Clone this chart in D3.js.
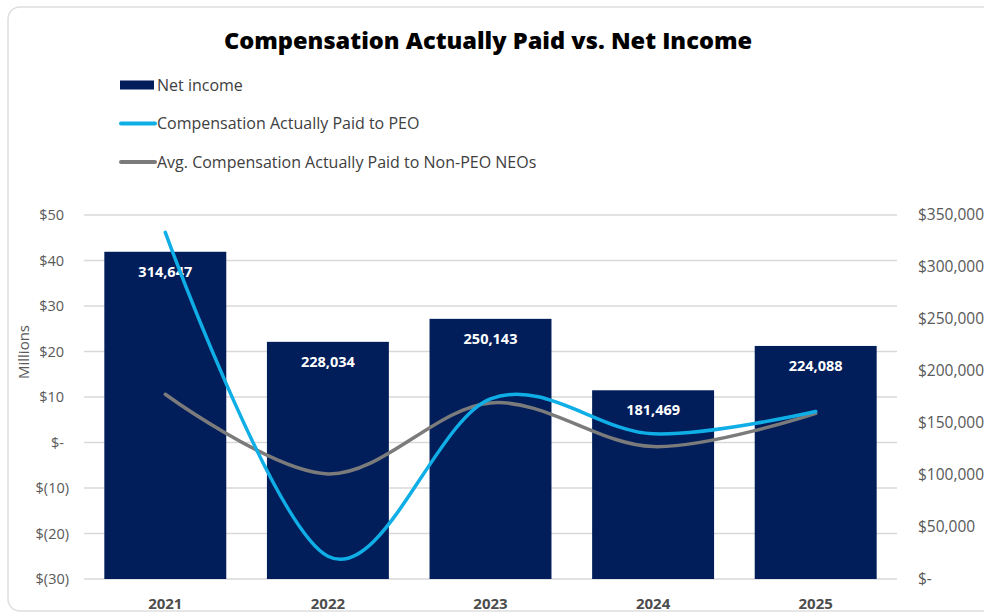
<!DOCTYPE html>
<html>
<head>
<meta charset="utf-8">
<script src="https://cdn.jsdelivr.net/npm/d3@7"></script>
<style>
  body { margin: 0; background: #fff; }
  text { font-family: "Open Sans", sans-serif; }
</style>
</head>
<body>
<script>
var w = 984;
var h = 613;

var years = ["2021", "2022", "2023", "2024", "2025"];
var netIncome = [314647, 228034, 250143, 181469, 224088]; // thousands, right axis
var capPEO = [46.2, -25.0, 9.6, 1.9, 6.8];                 // millions, left axis
var capNEO = [10.6, -6.9, 8.7, -0.9, 6.4];                 // millions, left axis

var leftTicks = [-30, -20, -10, 0, 10, 20, 30, 40, 50];
var leftTickLabels = ["$(30)", "$(20)", "$(10)", "$-", "$10", "$20", "$30", "$40", "$50"];
var rightTicks = [0, 50000, 100000, 150000, 200000, 250000, 300000, 350000];
var rightTickLabels = ["$-", "$50,000", "$100,000", "$150,000", "$200,000", "$250,000", "$300,000", "$350,000"];

var navy = "#011e5a";
var blue = "#10aee6";
var gray = "#7b7b7b";

var svg = d3.select("body")
    .append("svg")
    .attr("width", w)
    .attr("height", h);

// card
svg.append("rect")
    .attr("x", 8).attr("y", 7)
    .attr("width", 990).attr("height", 604)
    .attr("rx", 12)
    .attr("fill", "#fff")
    .attr("stroke", "#dedede")
    .attr("stroke-width", 1.5);

svg.append("text")
    .text("Compensation Actually Paid vs. Net Income")
    .attr("x", 488).attr("y", 49)
    .attr("text-anchor", "middle")
    .attr("font-size", 23.6)
    .attr("font-weight", 800)
    .attr("fill", "#000");

var x = d3.scaleBand().domain(years).range([84, 897]).paddingInner(0.25).paddingOuter(0.125);
var yL = d3.scaleLinear().domain([-30, 50]).range([579, 215]);
var yR = d3.scaleLinear().domain([0, 350000]).range([579, 215]);

// gridlines
svg.selectAll("line.grid")
    .data(leftTicks)
    .enter()
    .append("line")
    .attr("class", "grid")
    .attr("x1", 84).attr("x2", 897)
    .attr("y1", function(d){ return yL(d); })
    .attr("y2", function(d){ return yL(d); })
    .attr("stroke", "#d9d9d9")
    .attr("stroke-width", 1.5);

// left axis labels
svg.selectAll("text.yl")
    .data(leftTicks)
    .enter()
    .append("text")
    .attr("class", "yl")
    .text(function(d, i){ return leftTickLabels[i]; })
    .attr("x", function(d){ return d < 0 ? 69 : 64; })
    .attr("y", function(d){ return yL(d) + 5; })
    .attr("text-anchor", "end")
    .attr("font-size", 14.5)
    .attr("fill", "#595959");

// right axis labels
svg.selectAll("text.yr")
    .data(rightTicks)
    .enter()
    .append("text")
    .attr("class", "yr")
    .text(function(d, i){ return rightTickLabels[i]; })
    .attr("x", 918)
    .attr("y", function(d){ return yR(d) + 5; })
    .attr("font-size", 15.5)
    .attr("fill", "#595959");

svg.append("text")
    .text("Millions")
    .attr("transform", "translate(29,352) rotate(-90)")
    .attr("text-anchor", "middle")
    .attr("font-size", 15)
    .attr("fill", "#595959");

// bars
svg.selectAll("rect.bar")
    .data(netIncome)
    .enter()
    .append("rect")
    .attr("class", "bar")
    .attr("x", function(d, i){ return x(years[i]); })
    .attr("y", function(d){ return yR(d); })
    .attr("width", x.bandwidth())
    .attr("height", function(d){ return yR(0) - yR(d); })
    .attr("fill", navy);

svg.selectAll("text.barlab")
    .data(netIncome)
    .enter()
    .append("text")
    .attr("class", "barlab")
    .text(function(d){ return d3.format(",")(d); })
    .attr("x", function(d, i){ return x(years[i]) + x.bandwidth() / 2; })
    .attr("y", function(d){ return yR(d) + 25; })
    .attr("text-anchor", "middle")
    .attr("font-size", 14.5)
    .attr("font-weight", 700)
    .attr("fill", "#fff");

// x labels
svg.selectAll("text.xl")
    .data(years)
    .enter()
    .append("text")
    .attr("class", "xl")
    .text(function(d){ return d; })
    .attr("x", function(d){ return x(d) + x.bandwidth() / 2; })
    .attr("y", 609)
    .attr("text-anchor", "middle")
    .attr("font-size", 15)
    .attr("font-weight", 700)
    .attr("fill", "#4d4d4d");

// lines
var line = d3.line()
    .x(function(d, i){ return x(years[i]) + x.bandwidth() / 2; })
    .y(function(d){ return yL(d); })
    .curve(d3.curveCardinal.tension(0));

svg.append("path")
    .attr("d", line(capNEO))
    .attr("fill", "none")
    .attr("stroke", gray)
    .attr("stroke-width", 3.5)
    .attr("stroke-linecap", "round");

svg.append("path")
    .attr("d", line(capPEO))
    .attr("fill", "none")
    .attr("stroke", blue)
    .attr("stroke-width", 3.5)
    .attr("stroke-linecap", "round");

// legend
var legend = [
    {name: "Net income", type: "bar", color: navy},
    {name: "Compensation Actually Paid to PEO", type: "line", color: blue},
    {name: "Avg. Compensation Actually Paid to Non-PEO NEOs", type: "line", color: gray}
];

var lg = svg.selectAll("g.legend")
    .data(legend)
    .enter()
    .append("g")
    .attr("class", "legend")
    .attr("transform", function(d, i){ return "translate(120," + (85 + i * 38.5) + ")"; });

lg.filter(function(d){ return d.type == "bar"; })
    .append("rect")
    .attr("x", 0).attr("y", -4.5)
    .attr("width", 34).attr("height", 9)
    .attr("fill", function(d){ return d.color; });

lg.filter(function(d){ return d.type == "line"; })
    .append("line")
    .attr("x1", 1).attr("x2", 35)
    .attr("stroke", function(d){ return d.color; })
    .attr("stroke-width", 4)
    .attr("stroke-linecap", "round");

lg.append("text")
    .text(function(d){ return d.name; })
    .attr("x", 37)
    .attr("y", 5.5)
    .attr("font-size", 16)
    .attr("fill", "#404040");
</script>
</body>
</html>
